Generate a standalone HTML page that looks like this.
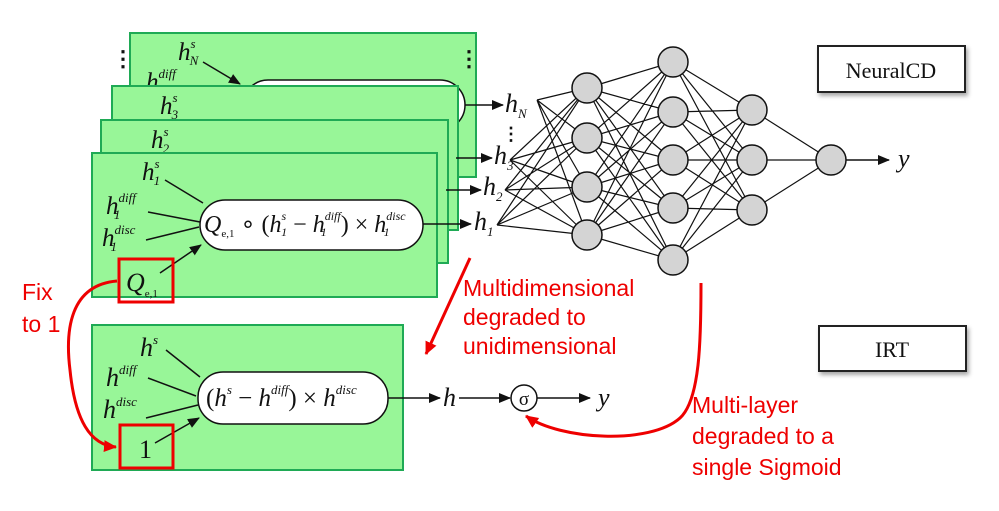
<!DOCTYPE html>
<html><head><meta charset="utf-8"><style>
html,body{margin:0;padding:0;background:#fff;}
svg{display:block;}
.m{font-family:"Liberation Serif",serif;font-style:italic;fill:#111;}
.r{font-family:"Liberation Sans",sans-serif;fill:#e00;font-size:23px;}
</style></head><body>
<svg width="999" height="511" viewBox="0 0 999 511" xmlns="http://www.w3.org/2000/svg">
<defs>
<marker id="a" markerWidth="12" markerHeight="10" refX="11" refY="5" orient="auto" markerUnits="userSpaceOnUse"><path d="M0,0 L12,5 L0,10 z" fill="#111"/></marker>
<marker id="ra" markerWidth="14" markerHeight="12" refX="12" refY="6" orient="auto" markerUnits="userSpaceOnUse"><path d="M0,0 L13,6 L0,12 z" fill="#e00"/></marker>
<filter id="sh" x="-10%" y="-10%" width="130%" height="140%"><feDropShadow dx="2" dy="3" stdDeviation="2" flood-color="#000" flood-opacity="0.35"/></filter>
</defs>

<!-- Panel N -->
<rect x="130" y="33" width="346" height="144" fill="#98f698" stroke="#1faa55" stroke-width="2"/>
<text class="m" font-size="25" x="178" y="60">h<tspan font-size="13" dy="-12">s</tspan><tspan font-size="13" dx="-6" dy="17">N</tspan></text>
<text class="m" font-size="25" x="146" y="90">h<tspan font-size="13" dy="-12">diff</tspan></text>
<text x="112" y="66" font-size="22" font-weight="bold" fill="#111">⋮</text>
<text x="458" y="66" font-size="22" font-weight="bold" fill="#111">⋮</text>
<path d="M203 62 L240 84" stroke="#111" stroke-width="1.5" marker-end="url(#a)"/>
<rect x="243" y="80" width="222" height="50" rx="25" fill="#fff" stroke="#111" stroke-width="1.5"/>
<path d="M465 105 L503 105" stroke="#111" stroke-width="1.5" marker-end="url(#a)"/>

<!-- Panel 3 -->
<rect x="112" y="86" width="346" height="144" fill="#98f698" stroke="#1faa55" stroke-width="2"/>
<text class="m" font-size="25" x="160" y="114">h<tspan font-size="13" dy="-12">s</tspan><tspan font-size="13" dx="-6" dy="17">3</tspan></text>
<path d="M456 158 L492 158" stroke="#111" stroke-width="1.5" marker-end="url(#a)"/>

<!-- Panel 2 -->
<rect x="101" y="120" width="347" height="143" fill="#98f698" stroke="#1faa55" stroke-width="2"/>
<text class="m" font-size="25" x="151" y="148">h<tspan font-size="13" dy="-12">s</tspan><tspan font-size="13" dx="-6" dy="17">2</tspan></text>
<path d="M446 190 L481 190" stroke="#111" stroke-width="1.5" marker-end="url(#a)"/>

<!-- Panel 1 -->
<rect x="92" y="153" width="345" height="144" fill="#98f698" stroke="#1faa55" stroke-width="2"/>
<text class="m" font-size="25" x="142" y="180">h<tspan font-size="13" dy="-12">s</tspan><tspan font-size="13" dx="-6" dy="17">1</tspan></text>
<text class="m" font-size="25" x="106" y="214">h<tspan font-size="13" dy="-12">diff</tspan><tspan font-size="13" dx="-22" dy="17">1</tspan></text>
<text class="m" font-size="25" x="102" y="246">h<tspan font-size="13" dy="-12">disc</tspan><tspan font-size="13" dx="-25" dy="17">1</tspan></text>
<path d="M165 180 L203 203 M148 212 L200 222 M146 240 L199 227 M160 273 L201 245" stroke="#111" stroke-width="1.5" fill="none" marker-end="url(#a)"/>
<rect x="200" y="200" width="223" height="50" rx="25" fill="#fff" stroke="#111" stroke-width="1.5"/>
<text class="m" font-size="24" x="204" y="232">Q<tspan font-size="11" font-style="normal" dy="5">e,1</tspan><tspan font-style="normal" dy="-5"> ∘ (</tspan>h<tspan font-size="12" dy="-12">s</tspan><tspan font-size="12" dx="-5" dy="16">1</tspan><tspan font-style="normal" dy="-4"> − </tspan>h<tspan font-size="12" dy="-12">diff</tspan><tspan font-size="12" dx="-20" dy="16">1</tspan><tspan font-style="normal" dx="14" dy="-4">) × </tspan>h<tspan font-size="12" dy="-12">disc</tspan><tspan font-size="12" dx="-22" dy="16">1</tspan></text>
<path d="M423 224 L471 224" stroke="#111" stroke-width="1.5" marker-end="url(#a)"/>
<rect x="119" y="259" width="54" height="43" fill="none" stroke="#e00" stroke-width="3"/>
<text class="m" font-size="26" x="126" y="291">Q<tspan font-size="11" font-style="normal" dy="6">e,1</tspan></text>

<!-- h labels -->
<text class="m" font-size="26" x="505" y="112">h<tspan font-size="13" dy="6">N</tspan></text>
<text x="502" y="140" font-size="18" font-weight="bold" fill="#111">⋮</text>
<text class="m" font-size="26" x="494" y="164">h<tspan font-size="13" dy="6">3</tspan></text>
<text class="m" font-size="26" x="483" y="195">h<tspan font-size="13" dy="6">2</tspan></text>
<text class="m" font-size="26" x="474" y="230">h<tspan font-size="13" dy="6">1</tspan></text>

<!-- network edges -->
<path stroke="#111" stroke-width="1.2" fill="none" d="
M537 100L587 88M537 100L587 138M537 100L587 187M537 100L587 235
M510 160L587 88M510 160L587 138M510 160L587 187M510 160L587 235
M505 190L587 88M505 190L587 138M505 190L587 187M505 190L587 235
M497 225L587 88M497 225L587 138M497 225L587 187M497 225L587 235
M587 88L673 62M587 88L673 112M587 88L673 160M587 88L673 208M587 88L673 260
M587 138L673 62M587 138L673 112M587 138L673 160M587 138L673 208M587 138L673 260
M587 187L673 62M587 187L673 112M587 187L673 160M587 187L673 208M587 187L673 260
M587 235L673 62M587 235L673 112M587 235L673 160M587 235L673 208M587 235L673 260
M673 62L752 110M673 62L752 160M673 62L752 210
M673 112L752 110M673 112L752 160M673 112L752 210
M673 160L752 110M673 160L752 160M673 160L752 210
M673 208L752 110M673 208L752 160M673 208L752 210
M673 260L752 110M673 260L752 160M673 260L752 210
M752 110L831 160M752 160L831 160M752 210L831 160"/>
<g fill="#d4d4d4" stroke="#111" stroke-width="1.5">
<circle cx="587" cy="88" r="15"/><circle cx="587" cy="138" r="15"/><circle cx="587" cy="187" r="15"/><circle cx="587" cy="235" r="15"/>
<circle cx="673" cy="62" r="15"/><circle cx="673" cy="112" r="15"/><circle cx="673" cy="160" r="15"/><circle cx="673" cy="208" r="15"/><circle cx="673" cy="260" r="15"/>
<circle cx="752" cy="110" r="15"/><circle cx="752" cy="160" r="15"/><circle cx="752" cy="210" r="15"/>
<circle cx="831" cy="160" r="15"/>
</g>
<path d="M846 160 L889 160" stroke="#111" stroke-width="1.5" marker-end="url(#a)"/>
<text class="m" font-size="26" x="898" y="167">y</text>

<!-- NeuralCD / IRT -->
<rect x="818" y="46" width="147" height="46" fill="#fff" stroke="#222" stroke-width="2" filter="url(#sh)"/>
<text x="891" y="78" font-family="Liberation Serif,serif" font-size="22" text-anchor="middle" fill="#111">NeuralCD</text>
<rect x="819" y="326" width="147" height="45" fill="#fff" stroke="#222" stroke-width="2" filter="url(#sh)"/>
<text x="892" y="357" font-family="Liberation Serif,serif" font-size="22" text-anchor="middle" fill="#111">IRT</text>

<!-- Bottom panel -->
<rect x="92" y="325" width="311" height="145" fill="#98f698" stroke="#1faa55" stroke-width="2"/>
<text class="m" font-size="26" x="140" y="356">h<tspan font-size="13" dy="-12">s</tspan></text>
<text class="m" font-size="26" x="106" y="386">h<tspan font-size="13" dy="-12">diff</tspan></text>
<text class="m" font-size="26" x="103" y="418">h<tspan font-size="13" dy="-12">disc</tspan></text>
<path d="M166 350 L200 377 M148 378 L196 396 M146 418 L198 405 M155 443 L199 418" stroke="#111" stroke-width="1.5" fill="none" marker-end="url(#a)"/>
<rect x="198" y="372" width="190" height="52" rx="25" fill="#fff" stroke="#111" stroke-width="1.5"/>
<text class="m" font-size="25" x="206" y="406"><tspan font-style="normal">(</tspan>h<tspan font-size="13" dy="-12">s</tspan><tspan font-style="normal" dy="12"> − </tspan>h<tspan font-size="13" dy="-12">diff</tspan><tspan font-style="normal" dy="12">) × </tspan>h<tspan font-size="13" dy="-12">disc</tspan></text>
<path d="M388 398 L440 398" stroke="#111" stroke-width="1.5" marker-end="url(#a)"/>
<rect x="120" y="425" width="53" height="43" fill="none" stroke="#e00" stroke-width="3"/>
<text font-family="Liberation Serif,serif" font-size="26" x="139" y="458" fill="#111">1</text>
<text class="m" font-size="26" x="443" y="406">h</text>
<path d="M459 398 L510 398" stroke="#111" stroke-width="1.5" marker-end="url(#a)"/>
<circle cx="524" cy="398" r="13" fill="#fff" stroke="#111" stroke-width="1.5"/>
<text x="524" y="405" font-family="Liberation Serif,serif" font-size="19" text-anchor="middle" fill="#111">σ</text>
<path d="M537 398 L590 398" stroke="#111" stroke-width="1.5" marker-end="url(#a)"/>
<text class="m" font-size="26" x="598" y="406">y</text>

<!-- red annotations -->
<text class="r" font-size="27" x="22" y="300">Fix</text>
<text class="r" font-size="27" x="22" y="332">to 1</text>
<path d="M117 281 C70 285 65 330 70 370 C75 420 90 445 116 447" stroke="#e00" stroke-width="3" fill="none" marker-end="url(#ra)"/>
<path d="M470 258 L426 354" stroke="#e00" stroke-width="3" fill="none" marker-end="url(#ra)"/>
<text class="r" x="463" y="296">Multidimensional</text>
<text class="r" x="463" y="325">degraded to</text>
<text class="r" x="463" y="354">unidimensional</text>
<path d="M701 283 C701 340 700 400 680 418 C650 445 560 440 526 416" stroke="#e00" stroke-width="3" fill="none" marker-end="url(#ra)"/>
<text class="r" font-size="25" x="692" y="413">Multi-layer</text>
<text class="r" font-size="25" x="692" y="444">degraded to a</text>
<text class="r" font-size="25" x="692" y="475">single Sigmoid</text>
</svg>
</body></html>
